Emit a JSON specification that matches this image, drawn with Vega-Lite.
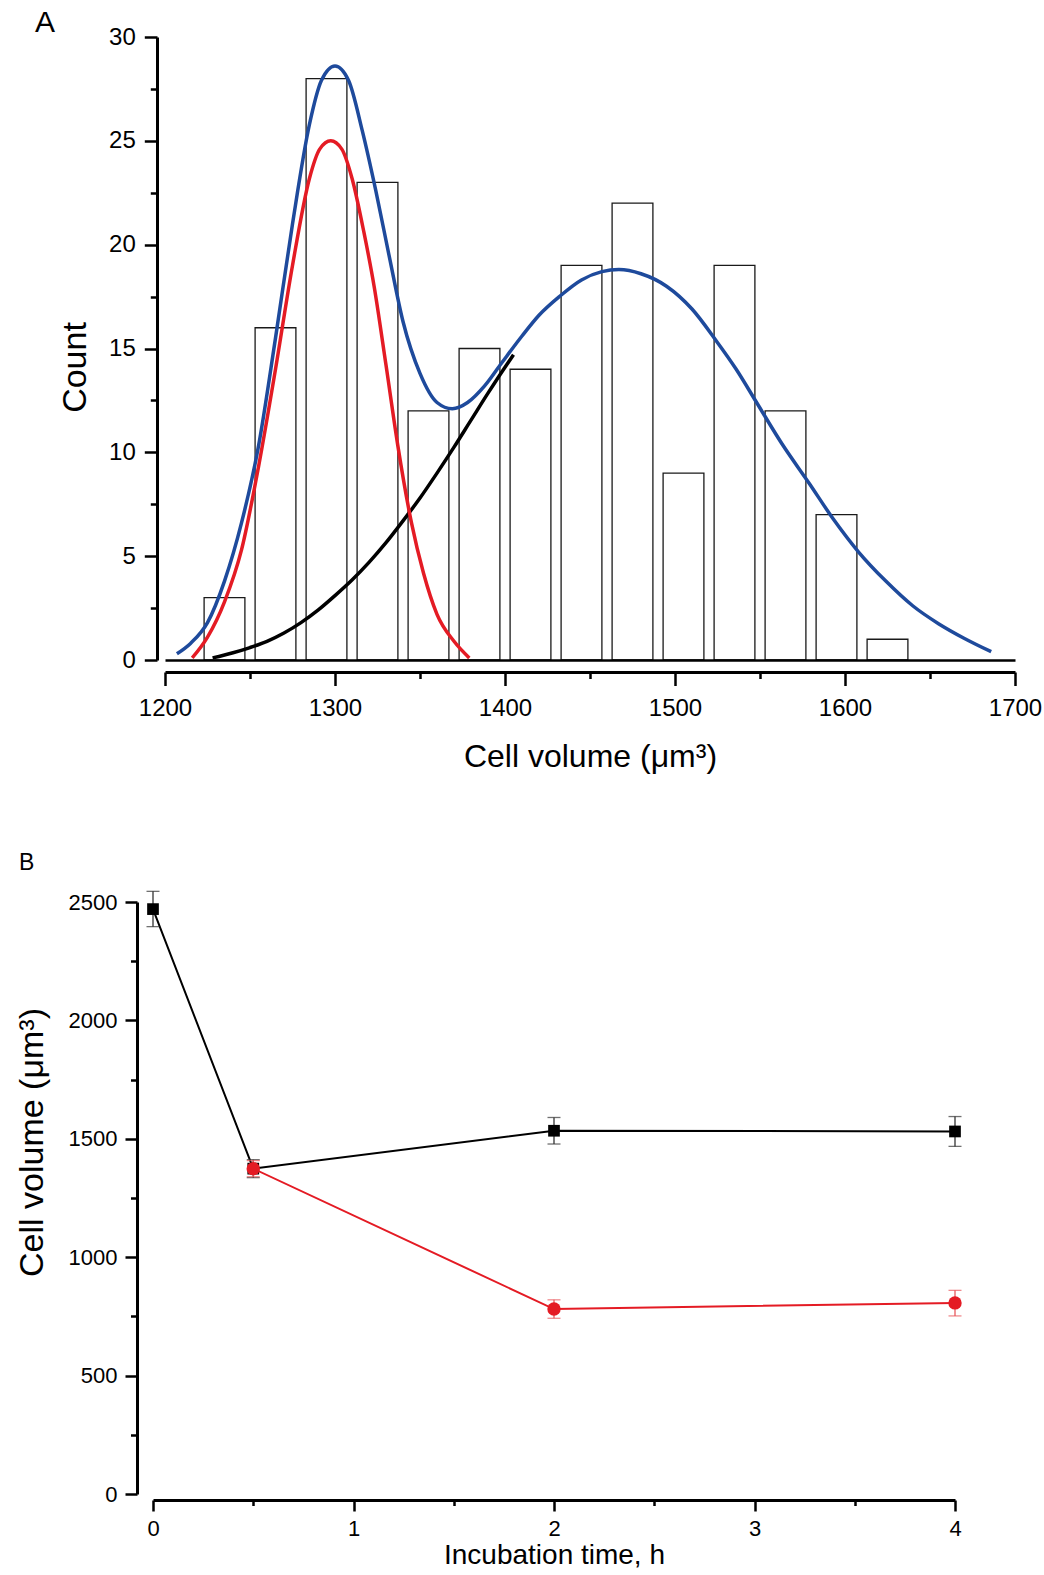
{
  "$schema": "https://vega.github.io/schema/vega-lite/v6.json",
  "background": "white",
  "padding": {"left": 15, "top": 8, "right": 2, "bottom": 2},
  "autosize": {"type": "pad"},
  "config": {
    "view": {"stroke": null},
    "font": "Liberation Sans",
    "axis": {"grid": false, "domainColor": "black", "tickColor": "black", "labelColor": "black", "titleColor": "black", "titleFontWeight": "normal", "format": "d", "labelFlush": false, "labelOverlap": false}
  },
  "datasets": {
    "hist": [
      {"lo": 1223, "hi": 1247, "count": 3},
      {"lo": 1253, "hi": 1277, "count": 16},
      {"lo": 1283, "hi": 1307, "count": 28},
      {"lo": 1313, "hi": 1337, "count": 23},
      {"lo": 1343, "hi": 1367, "count": 12},
      {"lo": 1373, "hi": 1397, "count": 15},
      {"lo": 1403, "hi": 1427, "count": 14},
      {"lo": 1433, "hi": 1457, "count": 19},
      {"lo": 1463, "hi": 1487, "count": 22},
      {"lo": 1493, "hi": 1517, "count": 9},
      {"lo": 1523, "hi": 1547, "count": 19},
      {"lo": 1553, "hi": 1577, "count": 12},
      {"lo": 1583, "hi": 1607, "count": 7},
      {"lo": 1613, "hi": 1637, "count": 1}
    ],
    "red": [
      {"vol": 1216, "count": 0.1}, {"vol": 1225, "count": 1.1}, {"vol": 1235, "count": 2.8},
      {"vol": 1245, "count": 5.3}, {"vol": 1255, "count": 9.3}, {"vol": 1265, "count": 14.0},
      {"vol": 1275, "count": 19.0}, {"vol": 1285, "count": 23.2}, {"vol": 1291, "count": 24.6},
      {"vol": 1297.5, "count": 25.0}, {"vol": 1304, "count": 24.6}, {"vol": 1310, "count": 23.2},
      {"vol": 1317, "count": 20.6}, {"vol": 1323, "count": 18.0}, {"vol": 1330, "count": 14.2},
      {"vol": 1337, "count": 10.3}, {"vol": 1345, "count": 6.6}, {"vol": 1352, "count": 4.2},
      {"vol": 1360, "count": 2.2}, {"vol": 1370, "count": 0.9}, {"vol": 1379, "count": 0.1}
    ],
    "black": [
      {"vol": 1228, "count": 0.1}, {"vol": 1240, "count": 0.35}, {"vol": 1250, "count": 0.6},
      {"vol": 1260, "count": 0.9}, {"vol": 1270, "count": 1.3}, {"vol": 1280, "count": 1.8},
      {"vol": 1290, "count": 2.4}, {"vol": 1300, "count": 3.1}, {"vol": 1310, "count": 3.85},
      {"vol": 1320, "count": 4.7}, {"vol": 1330, "count": 5.65}, {"vol": 1340, "count": 6.7},
      {"vol": 1350, "count": 7.8}, {"vol": 1360, "count": 9.0}, {"vol": 1370, "count": 10.25},
      {"vol": 1380, "count": 11.55}, {"vol": 1390, "count": 12.85}, {"vol": 1400, "count": 14.1},
      {"vol": 1405, "count": 14.7}
    ],
    "blue": [
      {"vol": 1207, "count": 0.3}, {"vol": 1215, "count": 0.8}, {"vol": 1225, "count": 1.8},
      {"vol": 1235, "count": 3.8}, {"vol": 1245, "count": 6.6}, {"vol": 1255, "count": 10.3},
      {"vol": 1265, "count": 15.5}, {"vol": 1275, "count": 21.0}, {"vol": 1285, "count": 25.8},
      {"vol": 1292, "count": 27.9}, {"vol": 1300, "count": 28.6}, {"vol": 1308, "count": 27.9},
      {"vol": 1316, "count": 25.5}, {"vol": 1324, "count": 22.6}, {"vol": 1332, "count": 19.4},
      {"vol": 1340, "count": 16.3}, {"vol": 1350, "count": 13.8}, {"vol": 1360, "count": 12.4},
      {"vol": 1369, "count": 12.1}, {"vol": 1378, "count": 12.4}, {"vol": 1388, "count": 13.2},
      {"vol": 1398, "count": 14.3}, {"vol": 1410, "count": 15.6}, {"vol": 1420, "count": 16.6},
      {"vol": 1432, "count": 17.5}, {"vol": 1445, "count": 18.3}, {"vol": 1457, "count": 18.7},
      {"vol": 1467, "count": 18.8}, {"vol": 1480, "count": 18.6}, {"vol": 1495, "count": 18.0},
      {"vol": 1510, "count": 16.9}, {"vol": 1524, "count": 15.4}, {"vol": 1536, "count": 14.0},
      {"vol": 1548, "count": 12.4}, {"vol": 1563, "count": 10.4}, {"vol": 1579, "count": 8.5},
      {"vol": 1593, "count": 6.8}, {"vol": 1608, "count": 5.2}, {"vol": 1624, "count": 3.8},
      {"vol": 1640, "count": 2.6}, {"vol": 1655, "count": 1.75}, {"vol": 1670, "count": 1.05},
      {"vol": 1686, "count": 0.4}
    ],
    "pts": [
      {"series": "s1", "t": 0, "vol": 2470, "lo": 2396, "hi": 2545},
      {"series": "s1", "t": 0.5, "vol": 1374, "lo": 1336, "hi": 1412},
      {"series": "s1", "t": 2, "vol": 1534, "lo": 1478, "hi": 1590},
      {"series": "s1", "t": 4, "vol": 1531, "lo": 1468, "hi": 1594},
      {"series": "s2", "t": 0.5, "vol": 1374, "lo": 1340, "hi": 1408},
      {"series": "s2", "t": 2, "vol": 781, "lo": 742, "hi": 820},
      {"series": "s2", "t": 4, "vol": 807, "lo": 752, "hi": 860}
    ]
  },
  "spacing": 78,
  "vconcat": [
    {
      "spacing": -119,
      "hconcat": [
        {"width": 1, "height": 1, "view": {"fill": "white", "stroke": null}, "data": {"values": []}, "mark": {"type": "point", "opacity": 0}, "encoding": {}},
        {
          "width": 850,
          "height": 623,
          "title": {"text": "A", "anchor": "start", "frame": "group", "dx": -130, "fontSize": 30, "fontWeight": "normal", "baseline": "alphabetic", "offset": -37, "color": "black"},
          "resolve": {"axis": {"x": "independent", "y": "independent"}},
          "layer": [
            {
              "data": {"name": "hist"},
              "mark": {"type": "rect", "fill": "white", "stroke": "#1a1a1a", "strokeWidth": 1.3},
              "encoding": {
                "x": {"field": "lo", "type": "quantitative", "scale": {"domain": [1200, 1700], "nice": false, "zero": false},
                  "axis": {"orient": "bottom", "values": [1200, 1300, 1400, 1500, 1600, 1700], "offset": 12, "tickSize": 13.5, "tickWidth": 2.5, "domainWidth": 3, "labelFontSize": 24, "labelPadding": 11, "title": "Cell volume (μm³)", "titleFontSize": 32, "titlePadding": 21}},
                "x2": {"field": "hi"},
                "y": {"field": "count", "type": "quantitative", "scale": {"domain": [0, 30], "nice": false},
                  "axis": {"orient": "left", "values": [0, 5, 10, 15, 20, 25, 30], "offset": 8, "tickSize": 12.7, "tickWidth": 2.5, "domainWidth": 3, "labelFontSize": 24, "labelPadding": 9, "title": "Count", "titleFontSize": 34, "titlePadding": 16, "titleY": 330}},
                "y2": {"datum": 0}
              }
            },
            {
              "data": {"name": "black"},
              "mark": {"type": "line", "color": "black", "strokeWidth": 3.5, "interpolate": "monotone"},
              "encoding": {
                "x": {"field": "vol", "type": "quantitative", "scale": {"domain": [1200, 1700], "nice": false, "zero": false},
                  "axis": {"orient": "bottom", "offset": 0, "ticks": false, "labels": false, "domain": true, "domainWidth": 2.5, "title": null, "zindex": 1}},
                "y": {"field": "count", "type": "quantitative", "scale": {"domain": [0, 30], "nice": false}, "axis": null}
              }
            },
            {
              "data": {"name": "red"},
              "mark": {"type": "line", "color": "#e41b24", "strokeWidth": 3.5, "interpolate": "monotone"},
              "encoding": {
                "x": {"field": "vol", "type": "quantitative", "scale": {"domain": [1200, 1700], "nice": false, "zero": false},
                  "axis": {"orient": "bottom", "values": [1250, 1350, 1450, 1550, 1650], "offset": 12, "tickSize": 6.5, "tickWidth": 2.5, "labels": false, "domain": false, "title": null}},
                "y": {"field": "count", "type": "quantitative", "scale": {"domain": [0, 30], "nice": false},
                  "axis": {"orient": "left", "values": [2.5, 7.5, 12.5, 17.5, 22.5, 27.5], "offset": 8, "tickSize": 6.7, "tickWidth": 2.5, "labels": false, "domain": false, "title": null}}
              }
            },
            {
              "data": {"name": "blue"},
              "mark": {"type": "line", "color": "#1e4a9c", "strokeWidth": 3.5, "interpolate": "monotone"},
              "encoding": {
                "x": {"field": "vol", "type": "quantitative", "scale": {"domain": [1200, 1700], "nice": false, "zero": false}, "axis": null},
                "y": {"field": "count", "type": "quantitative", "scale": {"domain": [0, 30], "nice": false}, "axis": null}
              }
            }
          ]
        }
      ]
    },
    {
      "width": 802,
      "height": 592,
      "title": {"text": "B", "anchor": "start", "frame": "group", "dx": -134, "fontSize": 23, "fontWeight": "normal", "baseline": "alphabetic", "offset": -2, "color": "black"},
      "data": {"name": "pts"},
      "resolve": {"axis": {"x": "independent", "y": "independent"}},
      "layer": [
        {
          "transform": [{"filter": "datum.series === 's1'"}],
          "mark": {"type": "line", "color": "black", "strokeWidth": 2},
          "encoding": {
            "x": {"field": "t", "type": "quantitative", "scale": {"domain": [0, 4], "nice": false, "zero": false},
              "axis": {"orient": "bottom", "values": [0, 1, 2, 3, 4], "offset": 6, "tickSize": 11, "tickWidth": 2.5, "domainWidth": 3, "labelFontSize": 22, "labelPadding": 7, "title": "Incubation time, h", "titleFontSize": 28, "titlePadding": 2}},
            "y": {"field": "vol", "type": "quantitative", "scale": {"domain": [0, 2500], "nice": false},
              "axis": {"orient": "left", "values": [0, 500, 1000, 1500, 2000, 2500], "offset": 16, "tickSize": 12, "tickWidth": 2.5, "domainWidth": 3, "labelFontSize": 22, "labelPadding": 8, "title": "Cell volume (μm³)", "titleFontSize": 34, "titlePadding": 19, "titleY": 240}}
          }
        },
        {
          "transform": [{"filter": "datum.series === 's2'"}],
          "mark": {"type": "line", "color": "#e41b24", "strokeWidth": 2},
          "encoding": {
            "x": {"field": "t", "type": "quantitative", "scale": {"domain": [0, 4], "nice": false, "zero": false},
              "axis": {"orient": "bottom", "values": [0.5, 1.5, 2.5, 3.5], "offset": 6, "tickSize": 5.5, "tickWidth": 2.5, "labels": false, "domain": false, "title": null}},
            "y": {"field": "vol", "type": "quantitative", "scale": {"domain": [0, 2500], "nice": false},
              "axis": {"orient": "left", "values": [250, 750, 1250, 1750, 2250], "offset": 16, "tickSize": 6.5, "tickWidth": 2.5, "labels": false, "domain": false, "title": null}}
          }
        },
        {
          "transform": [{"filter": "datum.series === 's1'"}],
          "mark": {"type": "errorbar", "color": "#333333", "thickness": 1.3, "ticks": {"size": 13}},
          "encoding": {
            "x": {"field": "t", "type": "quantitative", "scale": {"domain": [0, 4], "nice": false, "zero": false}, "axis": null},
            "y": {"field": "lo", "type": "quantitative", "scale": {"domain": [0, 2500], "nice": false}, "axis": null},
            "y2": {"field": "hi"}
          }
        },
        {
          "transform": [{"filter": "datum.series === 's2'"}],
          "mark": {"type": "errorbar", "color": "#e85a5e", "thickness": 1.3, "ticks": {"size": 13}},
          "encoding": {
            "x": {"field": "t", "type": "quantitative", "scale": {"domain": [0, 4], "nice": false, "zero": false}, "axis": null},
            "y": {"field": "lo", "type": "quantitative", "scale": {"domain": [0, 2500], "nice": false}, "axis": null},
            "y2": {"field": "hi"}
          }
        },
        {
          "transform": [{"filter": "datum.series === 's1'"}],
          "mark": {"type": "square", "size": 137, "color": "black", "opacity": 1},
          "encoding": {
            "x": {"field": "t", "type": "quantitative", "scale": {"domain": [0, 4], "nice": false, "zero": false}, "axis": null},
            "y": {"field": "vol", "type": "quantitative", "scale": {"domain": [0, 2500], "nice": false}, "axis": null}
          }
        },
        {
          "transform": [{"filter": "datum.series === 's2'"}],
          "mark": {"type": "circle", "size": 180, "color": "#e41b24", "opacity": 1},
          "encoding": {
            "x": {"field": "t", "type": "quantitative", "scale": {"domain": [0, 4], "nice": false, "zero": false}, "axis": null},
            "y": {"field": "vol", "type": "quantitative", "scale": {"domain": [0, 2500], "nice": false}, "axis": null}
          }
        }
      ]
    }
  ]
}
